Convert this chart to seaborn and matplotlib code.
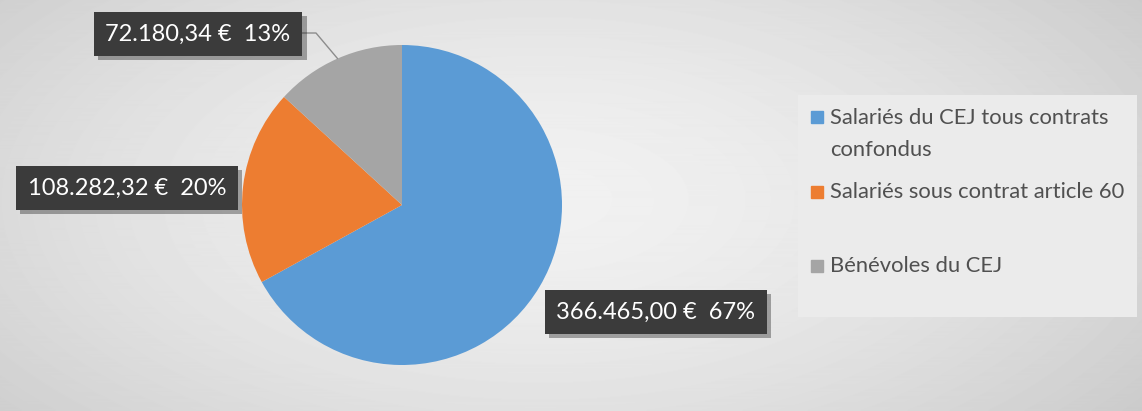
import numpy as np
import matplotlib
matplotlib.use("Agg")
import matplotlib.pyplot as plt
import seaborn as sns
from matplotlib.patches import Rectangle
from matplotlib import patheffects as pe

# Data
categories = ["Salariés du CEJ tous contrats\nconfondus",
              "Salariés sous contrat article 60",
              "Bénévoles du CEJ"]
values = [366465.00, 108282.32, 72180.34]
value_labels = ["366.465,00 €", "108.282,32 €", "72.180,34 €"]
percent_labels = ["67%", "20%", "13%"]
colors = ["#5B9BD5", "#ED7D31", "#A5A5A5"]

sns.set_theme(style="white")
plt.rcParams['font.family'] = ['Lato', 'DejaVu Sans']

W, H = 1142, 411
fig = plt.figure(figsize=(W / 100, H / 100), dpi=100)
ax = fig.add_axes([0, 0, 1, 1])

# radial grey background
yy, xx = np.mgrid[0:H, 0:W]
d = np.sqrt(((xx - 540) / 680.0) ** 2 + ((yy - 200) / 330.0) ** 2)
bg = 0.945 - 0.13 * np.clip(d, 0, 1.3) ** 1.6
ax.imshow(bg, cmap="gray", vmin=0, vmax=1, extent=[0, W, 0, H],
          origin="upper", zorder=0, aspect="auto")

# pie
cx, cy, r = 402, 206, 160
wedges, _ = ax.pie(values, colors=colors, startangle=90, counterclock=False,
                   center=(cx, cy), radius=r, frame=True,
                   wedgeprops=dict(linewidth=0))
ax.set_xlim(0, W)
ax.set_ylim(0, H)
ax.axis("off")

# data labels
label_pos = [(656, 411 - 312), (127, 411 - 188), (198, 411 - 34)]
for (x, y), v, p in zip(label_pos, value_labels, percent_labels):
    t = ax.text(x, y, f"{v}  {p}", ha="center", va="center", color="white",
                fontsize=17, zorder=5,
                bbox=dict(boxstyle="square,pad=0.5", facecolor="#3b3b3b",
                          edgecolor="none"))
    t.get_bbox_patch().set_path_effects(
        [pe.SimplePatchShadow(offset=(3, -3), alpha=0.35), pe.Normal()])

# leader line for the small grey slice
g = wedges[2]
mid = np.deg2rad((g.theta1 + g.theta2) / 2)
ex, ey = cx + r * np.cos(mid), cy + r * np.sin(mid)
ax.plot([302, 316, ex], [411 - 33, 411 - 33, ey], color="#8c8c8c",
        lw=1, zorder=4)

# legend box
ax.add_patch(Rectangle((798, 411 - 317), 339, 222, facecolor="#ebebeb",
                       edgecolor="none", zorder=1))
legend_y = [411 - 117, 411 - 192, 411 - 266]
for yv, c, lab in zip(legend_y, colors, categories):
    ax.plot([817], [yv], marker="s", markersize=8, color=c, zorder=3)
    if "\n" in lab:
        ax.text(830, yv + 9, lab, ha="left", va="top", fontsize=15.8,
                color="#505050", linespacing=1.75, zorder=3)
    else:
        ax.text(830, yv, lab, ha="left", va="center", fontsize=15.8,
                color="#505050", zorder=3)

fig.savefig("out.png", dpi=100)
